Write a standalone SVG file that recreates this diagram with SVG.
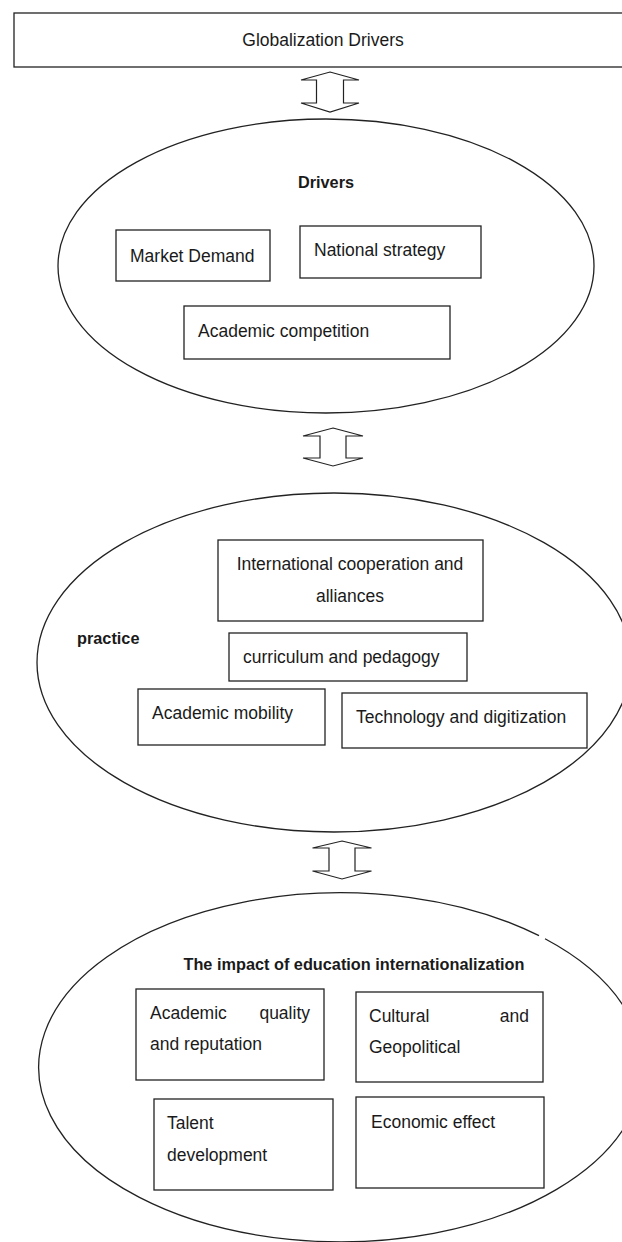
<svg xmlns="http://www.w3.org/2000/svg" width="622" height="1242" viewBox="0 0 622 1242">
<style>
.bg{fill:#ffffff}
.box{fill:#ffffff;stroke:#222;stroke-width:1.3}
.ell{fill:none;stroke:#222;stroke-width:1.3}
.arr{fill:#ffffff;stroke:#222;stroke-width:1.2;stroke-linejoin:miter}
text{font-family:"Liberation Sans",Arial,sans-serif;fill:#1a1a1a}
.t{font-size:17.5px}
.b{font-size:16.3px;font-weight:bold}
</style>
<rect class="bg" x="0" y="0" width="622" height="1242"/>

<g id="globalization-drivers">
  <rect class="box" x="14" y="13" width="620" height="54"/>
  <text class="t" x="323" y="46" text-anchor="middle">Globalization Drivers</text>
</g>

<g id="drivers">
  <ellipse class="ell" cx="326" cy="266" rx="268" ry="147"/>
  <text class="b" x="326" y="188" text-anchor="middle">Drivers</text>
</g>
<g id="market-demand">
  <rect class="box" x="116" y="230" width="154" height="51"/>
  <text class="t" x="130" y="262">Market Demand</text>
</g>
<g id="national-strategy">
  <rect class="box" x="300" y="226" width="181" height="52"/>
  <text class="t" x="314" y="256">National strategy</text>
</g>
<g id="academic-competition">
  <rect class="box" x="184" y="306" width="266" height="53"/>
  <text class="t" x="198" y="337">Academic competition</text>
</g>

<g id="practice">
  <ellipse class="ell" cx="334" cy="662.5" rx="297" ry="169.5"/>
  <text class="b" x="77" y="644">practice</text>
</g>
<g id="international-cooperation">
  <rect class="box" x="218" y="540" width="265" height="81"/>
  <text class="t" x="350" y="570" text-anchor="middle">International cooperation and</text>
  <text class="t" x="350" y="602" text-anchor="middle">alliances</text>
</g>
<g id="curriculum-pedagogy">
  <rect class="box" x="229" y="633" width="238" height="48"/>
  <text class="t" x="243" y="663">curriculum and pedagogy</text>
</g>
<g id="academic-mobility">
  <rect class="box" x="138" y="689" width="187" height="56"/>
  <text class="t" x="152" y="719">Academic mobility</text>
</g>
<g id="technology-digitization">
  <rect class="box" x="342" y="693" width="245" height="55"/>
  <text class="t" x="356" y="723">Technology and digitization</text>
</g>

<g id="impact">
  <path class="ell" d="M 539 935.7 A 302 174.5 0 1 0 545 938.8"/>
  <text class="b" x="354" y="970" text-anchor="middle">The impact of education internationalization</text>
</g>
<g id="academic-quality">
  <rect class="box" x="136" y="989" width="188" height="91"/>
  <text class="t" x="150" y="1019">Academic</text>
  <text class="t" x="310" y="1019" text-anchor="end">quality</text>
  <text class="t" x="150" y="1050">and reputation</text>
</g>
<g id="cultural-geopolitical">
  <rect class="box" x="356" y="992" width="187" height="90"/>
  <text class="t" x="369" y="1022">Cultural</text>
  <text class="t" x="529" y="1022" text-anchor="end">and</text>
  <text class="t" x="369" y="1053">Geopolitical</text>
</g>
<g id="talent-development">
  <rect class="box" x="154" y="1099" width="179" height="91"/>
  <text class="t" x="167" y="1129">Talent</text>
  <text class="t" x="167" y="1161">development</text>
</g>
<g id="economic-effect">
  <rect class="box" x="356" y="1097" width="188" height="91"/>
  <text class="t" x="371" y="1128">Economic effect</text>
</g>

<g id="connectors">
  <polygon class="arr" points="330,72 359,80 343.5,80 343.5,103 359,103 330,112 301,103 316.5,103 316.5,80 301,80"/>
  <polygon class="arr" points="333,428 363,436 346,436 346,458 363,458 333,466 303,458 320,458 320,436 303,436"/>
  <polygon class="arr" points="342,841 371.5,848 355,848 355,871 371.5,871 342,879 312.5,871 329,871 329,848 312.5,848"/>
</g>
</svg>
